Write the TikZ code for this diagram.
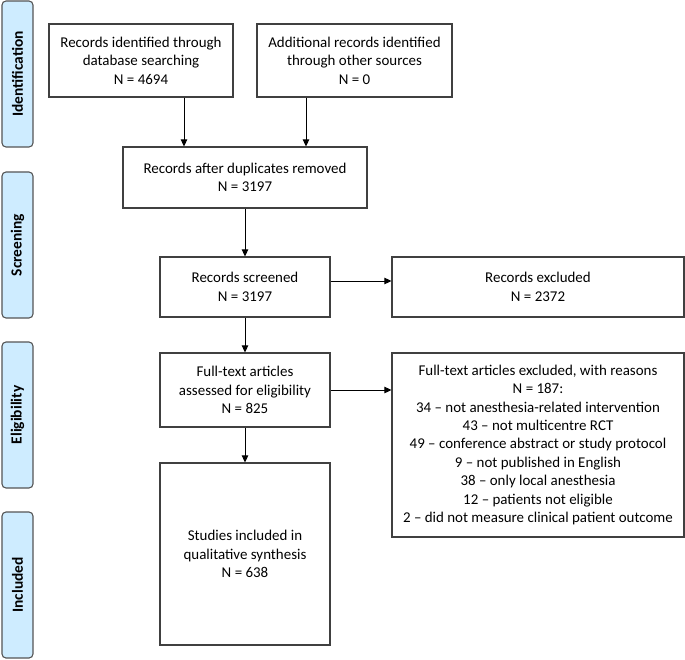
\documentclass[tikz,border=0pt]{standalone}
\usepackage{fontspec}
\setmainfont{Carlito}
\usetikzlibrary{arrows.meta}
\definecolor{sidefill}{RGB}{206,236,255}
\definecolor{sidedraw}{RGB}{85,85,85}
\definecolor{boxdraw}{RGB}{64,64,64}
\begin{document}
\begin{tikzpicture}[x=1bp,y=-1bp,
  box/.style={draw=boxdraw,line width=1.2bp,fill=white,inner sep=0pt,align=center,
    font=\fontsize{15}{18.5}\selectfont},
  side/.style={draw=sidedraw,line width=1.1bp,fill=sidefill,rounded corners=4bp,rotate=90,
    minimum width=146bp,minimum height=31bp,inner sep=0pt,
    font=\fontsize{15.5}{18}\selectfont\bfseries},
  arr/.style={-{Triangle[length=7bp,width=6.5bp]},line width=1bp,draw=black}]
\useasboundingbox (0,0) rectangle (685,660);
% side labels
\node[side] (sI) at (17.5,74) {Identification};
\node[side] (sS) at (17.5,245) {Screening};
\node[side] (sE) at (17.5,415) {Eligibility};
\node[side] (sN) at (17.5,585) {Included};
% boxes
\node[box,minimum width=184bp,minimum height=73bp] (A) at (141,60.5)
  {Records identified through\\database searching\\N = 4694};
\node[box,minimum width=195bp,minimum height=73bp] (B) at (354.5,60.5)
  {Additional records identified\\through other sources\\N = 0};
\node[box,minimum width=244bp,minimum height=61bp] (C) at (245,177.5)
  {Records after duplicates removed\\N = 3197};
\node[box,minimum width=170bp,minimum height=60bp] (D) at (245,287)
  {Records screened\\N = 3197};
\node[box,minimum width=292bp,minimum height=60bp] (E) at (538,287)
  {Records excluded\\N = 2372};
\node[box,minimum width=170bp,minimum height=74bp] (F) at (245,390)
  {Full-text articles\\assessed for eligibility\\N = 825};
\node[box,minimum width=292bp,minimum height=184bp] (G) at (538,445)
  {Full-text articles excluded, with reasons\\N = 187:\\34 -- not anesthesia-related intervention\\43 -- not multicentre RCT\\49 -- conference abstract or study protocol\\9 -- not published in English\\38 -- only local anesthesia\\12 -- patients not eligible\\2 -- did not measure clinical patient outcome};
\node[box,minimum width=170bp,minimum height=182bp] (H) at (245,554)
  {Studies included in\\qualitative synthesis\\N = 638};
% connectors
\draw[arr] (A.south -| 184,0) -- (C.north -| 184,0);
\draw[arr] (B.south -| 306,0) -- (C.north -| 306,0);
\draw[arr] (C) -- (D);
\draw[arr] (D.east |- 0,281) -- (E.west |- 0,281);
\draw[arr] (D) -- (F);
\draw[arr] (F.east) -- (G.west |- F.east);
\draw[arr] (F) -- (H);
\end{tikzpicture}
\end{document}
